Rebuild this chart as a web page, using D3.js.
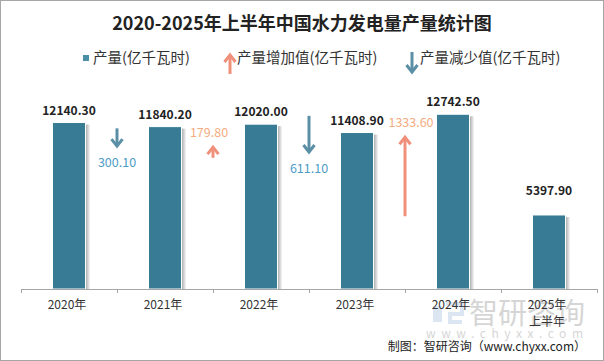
<!DOCTYPE html>
<html>
<head>
<meta charset="utf-8">
<script src="https://cdn.jsdelivr.net/npm/d3@7"></script>
<style>
  body { margin: 0; background: #fff; }
  text { font-family: "Noto Sans CJK SC", "Noto Sans", sans-serif; }
</style>
</head>
<body>
<div id="vis"></div>
<script>
//Data
var years = ["2020年", "2021年", "2022年", "2023年", "2024年", "2025年上半年"];
var output = [12140.30, 11840.20, 12020.00, 11408.90, 12742.50, 5397.90];
var changes = [-300.10, 179.80, -611.10, 1333.60];

var width = 604, height = 361;
var margin = {top: 97, left: 21, right: 7, bottom: 72};

var barColor = "#377b94",
    upColor = "#f0907a", upText = "#f4ac7e",
    downColor = "#5a8fa6", downText = "#4e9cc6";

var svg = d3.select("#vis").append("svg")
    .attr("width", width)
    .attr("height", height);

//frame
svg.append("rect")
    .attr("x", 0.5).attr("y", 0.5)
    .attr("width", width - 1).attr("height", height - 1)
    .attr("fill", "#fff").attr("stroke", "#a6a6a6");

var defs = svg.append("defs");
var shadow = defs.append("linearGradient").attr("id", "shadow");
shadow.append("stop").attr("offset", "0%").attr("stop-color", "#a8a8a8");
shadow.append("stop").attr("offset", "100%").attr("stop-color", "#fff");

var x = d3.scaleBand()
    .domain(years)
    .range([margin.left, width - margin.right]);

var y = d3.scaleLinear()
    .domain([0, 14000])
    .range([height - margin.bottom, margin.top]);

//arrow length scale (px per unit of change)
var arrowLen = d3.scaleLinear().domain([0, 1333.6]).range([0, 79]);

//Title
svg.append("text")
    .attr("x", width / 2).attr("y", 30)
    .attr("text-anchor", "middle")
    .attr("font-size", 18).attr("font-weight", "bold")
    .attr("fill", "#222")
    .text("2020-2025年上半年中国水力发电量产量统计图");

//Legend
var legY = 63;
svg.append("rect").attr("x", 83).attr("y", legY - 8).attr("width", 6).attr("height", 6)
    .attr("fill", "#4a8fa8");
svg.append("text").attr("x", 93).attr("y", legY).attr("font-size", 14.5).attr("fill", "#333")
    .text("产量(亿千瓦时)");

function arrow(g, cx, y1, y2, color) {
  //y1 tail, y2 tip
  var dir = y2 > y1 ? 1 : -1;
  g.append("line")
      .attr("x1", cx).attr("x2", cx)
      .attr("y1", y1).attr("y2", y2 - dir * 1.5)
      .attr("stroke", color).attr("stroke-width", 3);
  g.append("path")
      .attr("d", "M" + (cx - 5.5) + "," + (y2 - dir * 7) + "L" + cx + "," + y2 + "L" + (cx + 5.5) + "," + (y2 - dir * 7))
      .attr("fill", "none").attr("stroke", color).attr("stroke-width", 3)
      .attr("stroke-linejoin", "miter");
}

arrow(svg, 230, 74, 55, upColor);
svg.append("text").attr("x", 237).attr("y", legY).attr("font-size", 14.5).attr("fill", "#333")
    .text("产量增加值(亿千瓦时)");
arrow(svg, 412, 52, 72, downColor);
svg.append("text").attr("x", 420).attr("y", legY).attr("font-size", 14.5).attr("fill", "#333")
    .text("产量减少值(亿千瓦时)");

//Watermark (behind the labels)
var wm = svg.append("g").attr("opacity", 0.3);
wm.append("rect").attr("x", 433).attr("y", 306).attr("width", 9).attr("height", 16).attr("fill", "#8fb0d8");
wm.append("path").attr("d", "M446,304H462V314H450V322H462").attr("fill", "none")
    .attr("stroke", "#8fb0d8").attr("stroke-width", 4);
wm.append("text").attr("x", 469).attr("y", 324).attr("font-size", 29).attr("fill", "#777")
    .text("智研咨询");
wm.append("text").attr("x", 426).attr("y", 338).attr("font-size", 12).attr("fill", "#777")
    .attr("textLength", 157).attr("lengthAdjust", "spacing")
    .text("www.chyxx.com");

//Bars
var barW = 33;
var bars = svg.selectAll(".bar")
    .data(output)
    .enter().append("g")
    .attr("class", "bar");

bars.append("rect")
    .attr("x", function(d, i) { return x(years[i]) + x.bandwidth() / 2 + barW / 2; })
    .attr("y", function(d) { return y(d) + 2; })
    .attr("width", 5)
    .attr("height", function(d) { return y(0) - y(d) - 2; })
    .attr("fill", "url(#shadow)");

bars.append("rect")
    .attr("x", function(d, i) { return x(years[i]) + x.bandwidth() / 2 - barW / 2; })
    .attr("y", function(d) { return y(d); })
    .attr("width", barW)
    .attr("height", function(d) { return y(0) - y(d); })
    .attr("fill", barColor)
    .attr("stroke", "#fff").attr("stroke-width", 1);

bars.append("text")
    .attr("x", function(d, i) { return x(years[i]) + x.bandwidth() / 2; })
    .attr("y", function(d, i) { return y(d) - (i === 5 ? 20 : 8); })
    .attr("text-anchor", "middle")
    .attr("font-size", 12).attr("font-weight", "bold")
    .attr("fill", "#222")
    .text(function(d) { return d3.format(".2f")(d); });

//Change arrows between bars
changes.forEach(function(c, i) {
  var cx = x(years[i + 1]);
  var g = svg.append("g");
  var len = arrowLen(Math.abs(c));
  if (c < 0) {
    var tip = y(output[i + 1]) + 19.5;
    arrow(g, cx, tip - len, tip, downColor);
    g.append("text").attr("x", cx).attr("y", tip + 21)
        .attr("text-anchor", "middle").attr("font-size", 12.5)
        .attr("fill", downText).text(d3.format(".2f")(-c));
  } else {
    var tip2 = y(output[i + 1]) + 23;
    arrow(g, cx, tip2 + len, tip2, upColor);
    g.append("text").attr("x", cx + (i === 3 ? 6 : -4)).attr("y", tip2 - 10)
        .attr("text-anchor", "middle").attr("font-size", 12.5)
        .attr("fill", upText).text(d3.format(".2f")(c));
  }
});

//X axis
var axisY = y(0);
svg.append("line")
    .attr("x1", margin.left).attr("x2", width - margin.right)
    .attr("y1", axisY + 0.5).attr("y2", axisY + 0.5)
    .attr("stroke", "#a6a6a6");
svg.selectAll(".tick")
    .data(years.concat([null]))
    .enter().append("line")
    .attr("x1", function(d, i) { return Math.round(margin.left + i * x.step()) + 0.5; })
    .attr("x2", function(d, i) { return Math.round(margin.left + i * x.step()) + 0.5; })
    .attr("y1", axisY).attr("y2", axisY + 4)
    .attr("stroke", "#a6a6a6");

svg.selectAll(".xlabel")
    .data(years)
    .enter().append("text")
    .attr("text-anchor", "middle")
    .attr("font-size", 12).attr("fill", "#333")
    .attr("x", function(d) { return x(d) + x.bandwidth() / 2 - 2; })
    .attr("y", axisY + 20)
    .each(function(d) {
      var t = d3.select(this);
      if (d.length > 5) {
        t.append("tspan").text(d.slice(0, 5));
        t.append("tspan").attr("x", t.attr("x")).attr("dy", 17).text(d.slice(5));
      } else {
        t.text(d);
      }
    });

svg.append("text")
    .attr("x", 586).attr("y", 351)
    .attr("text-anchor", "end")
    .attr("font-size", 12).attr("fill", "#222")
    .text("制图：智研咨询（www.chyxx.com）");
</script>
</body>
</html>
